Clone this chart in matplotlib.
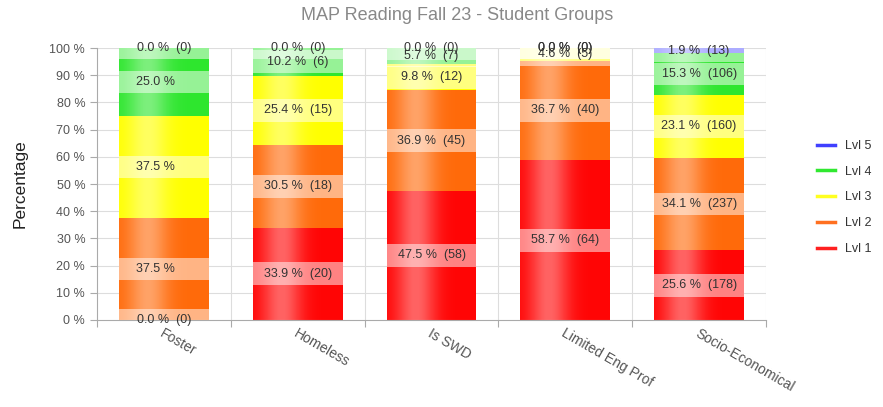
import matplotlib.pyplot as plt
from matplotlib.patches import Rectangle
from matplotlib.lines import Line2D
import numpy as np

plt.rcParams['font.family'] = ['Liberation Sans', 'DejaVu Sans']

# --- data ---
groups = ['Foster', 'Homeless', 'Is SWD', 'Limited Eng Prof', 'Socio-Economical']
levels = ['Lvl 1', 'Lvl 2', 'Lvl 3', 'Lvl 4', 'Lvl 5']

# percentage per level (rows = groups, cols = Lvl1..Lvl5)
pct_foster = [0.0, 37.5, 37.5, 25.0, 0.0]
pct_homeless = [33.9, 30.5, 25.4, 10.2, 0.0]
pct_swd = [47.5, 36.9, 9.8, 5.7, 0.0]
pct_lep = [58.7, 36.7, 4.6, 0.0, 0.0]
pct_socio = [25.6, 34.1, 23.1, 15.3, 1.9]

# student counts (None = count not shown)
cnt_foster = [0, None, None, None, 0]
cnt_homeless = [20, 18, 15, 6, 0]
cnt_swd = [58, 45, 12, 7, 0]
cnt_lep = [64, 40, 5, 0, 0]
cnt_socio = [178, 237, 160, 106, 13]

pct = np.array([pct_foster, pct_homeless, pct_swd, pct_lep, pct_socio])
cnt = [cnt_foster, cnt_homeless, cnt_swd, cnt_lep, cnt_socio]

level_colors = ['#ff0505', '#ff6a0a', '#ffff00', '#2ee62e', '#5a5aff']
legend_colors = ['#ff2020', '#ff7020', '#ffff20', '#30e830', '#4040ff']

# --- figure ---
fig = plt.figure(figsize=(8.83, 4.07), dpi=100)
ax = fig.add_axes([0.1099, 0.2138, 0.7576, 0.6682])

x = np.arange(len(groups))
bar_w = 0.67
grid_c = '#dddddd'

# stacked bars
bottoms = np.zeros(len(groups))
for j in range(len(levels)):
    ax.bar(x, pct[:, j], bottom=bottoms, width=bar_w, color=level_colors[j],
           linewidth=0, zorder=2)
    bottoms += pct[:, j]

# cylinder-like shading across each bar
t = np.linspace(0, 1, 200)
alpha = 0.38 * np.exp(-((t - 0.32) / 0.22) ** 2)
shade = np.ones((1, len(t), 4))
shade[0, :, 3] = alpha
for xi in x:
    ax.imshow(shade, extent=[xi - bar_w / 2, xi + bar_w / 2, 0, 100],
              aspect='auto', zorder=3, interpolation='bilinear')

# value labels with translucent boxes
box_h = 8.4
for i in range(len(groups)):
    base = 0.0
    for j in range(len(levels)):
        v = pct[i, j]
        yc = base + v / 2
        ax.add_patch(Rectangle((x[i] - bar_w / 2, yc - box_h / 2), bar_w, box_h,
                               facecolor='white', alpha=0.5, linewidth=0,
                               zorder=4, clip_on=True))
        c = cnt[i][j]
        if c is None:
            ax.text(x[i] + 0.08, yc, f'{v:.1f} %', ha='right', va='center',
                    fontsize=9, color='#333333', zorder=5, clip_on=False)
        else:
            ax.text(x[i], yc, f'{v:.1f} %  ({c})', ha='center', va='center',
                    fontsize=9, color='#333333', zorder=5, clip_on=False)
        base += v

# axes styling
ax.set_xlim(-0.5, len(groups) - 0.5)
ax.set_ylim(0, 100)
ax.set_yticks(np.arange(0, 101, 10))
ax.set_yticklabels([f'{v} %' for v in range(0, 101, 10)], fontsize=9, color='#555555')
ax.set_xticks(np.arange(-0.5, len(groups), 1.0))
ax.set_xticklabels([])
for yv in range(10, 101, 10):
    ax.axhline(yv, color=grid_c, linewidth=0.8, zorder=1)
for xv in np.arange(0.5, len(groups), 1.0):
    ax.axvline(xv, color=grid_c, linewidth=0.8, zorder=1)
ax.tick_params(axis='both', color='#aaaaaa', length=5, width=0.8)
for s in ['top', 'right']:
    ax.spines[s].set_visible(False)
for s in ['left', 'bottom']:
    ax.spines[s].set_color('#aaaaaa')

for i, g in enumerate(groups):
    ax.text(x[i] - 0.02, -4.5, g, rotation=-30, rotation_mode='anchor',
            ha='left', va='center', fontsize=10, color='#555555')

ax.set_ylabel('Percentage', fontsize=12.5, color='#222222', labelpad=16)

fig.text(0.518, 0.962, 'MAP Reading Fall 23 - Student Groups', ha='center',
         va='center', fontsize=13, color='#888888')

# legend (top level first)
handles = [Line2D([0], [0], color=legend_colors[j], linewidth=2.5) for j in range(4, -1, -1)]
fig.legend(handles, levels[::-1], loc='center left', bbox_to_anchor=(0.912, 0.515),
           frameon=False, fontsize=9, handlelength=1.5, labelspacing=1.1,
           labelcolor='#333333')

fig.savefig('out.png', dpi=100)
